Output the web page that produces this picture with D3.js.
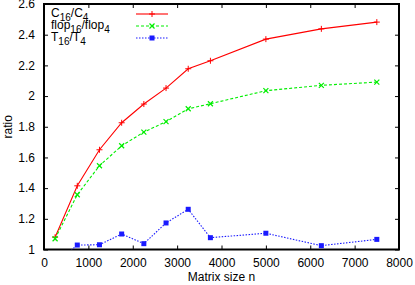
<!DOCTYPE html>
<html>
<head>
<meta charset="utf-8">
<script src="https://cdn.jsdelivr.net/npm/d3@7"></script>
<style>
	body { margin: 0; background: #fff; }
	svg text { font-family: "Liberation Sans", Arial, sans-serif; font-size: 12px; fill: #000; }
</style>
</head>
<body>
<svg id="chart" width="415" height="285"></svg>
<script>
// matrix sizes
const sizes = [250, 750, 1250, 1750, 2250, 2750, 3250, 3750, 5000, 6250, 7500];
// C16/C4
const costRatio = [1.08, 1.415, 1.65, 1.826, 1.948, 2.052, 2.178, 2.23, 2.371, 2.438, 2.482];
// flop16/flop4
const flopRatio = [1.07, 1.357, 1.546, 1.676, 1.765, 1.833, 1.917, 1.95, 2.035, 2.07, 2.091];
// T16/T4 (first point is below the plot and gets clipped)
const timeRatio = [0.905, 1.029, 1.031, 1.101, 1.038, 1.173, 1.262, 1.077, 1.106, 1.025, 1.066];

const xTicks = [0, 1000, 2000, 3000, 4000, 5000, 6000, 7000, 8000];
const yTicks = [1, 1.2, 1.4, 1.6, 1.8, 2, 2.2, 2.4, 2.6];

const margin = { left: 44, right: 16, top: 4, bottom: 35.5 };
const width = 415, height = 285;

const svg = d3.select('#chart');

let x = d3.scaleLinear()
	.domain([0, 8000])
	.range([margin.left, width - margin.right]);
let y = d3.scaleLinear()
	.domain([1, 2.6])
	.range([height - margin.bottom, margin.top]);

svg.append('clipPath')
	.attr('id', 'plot-clip')
	.append('rect')
	.attr('x', x(0))
	.attr('y', y(2.6))
	.attr('width', x(8000) - x(0))
	.attr('height', y(1) - y(2.6));

// ticks, inside on all four sides
let tickLen = 4;
let axes = svg.append('g');

axes.append('g')
	.attr('transform', 'translate(0,' + y(1) + ')')
	.call(d3.axisBottom(x).tickValues(xTicks).tickSizeInner(-tickLen).tickSizeOuter(0).tickPadding(9).tickFormat(d3.format('d')));
axes.append('g')
	.attr('transform', 'translate(0,' + y(2.6) + ')')
	.call(d3.axisTop(x).tickValues(xTicks).tickSizeInner(-tickLen).tickSizeOuter(0).tickFormat(''));
axes.append('g')
	.attr('transform', 'translate(' + x(0) + ',0)')
	.call(d3.axisLeft(y).tickValues(yTicks).tickSizeInner(-tickLen).tickSizeOuter(0).tickPadding(9).tickFormat(d3.format('~g')));
axes.append('g')
	.attr('transform', 'translate(' + x(8000) + ',0)')
	.call(d3.axisRight(y).tickValues(yTicks).tickSizeInner(-tickLen).tickSizeOuter(0).tickFormat(''));

axes.selectAll('.domain').remove();
axes.selectAll('.tick line').attr('stroke', '#000').attr('stroke-width', 1);
axes.selectAll('.tick text')
	.style('font-family', '"Liberation Sans", Arial, sans-serif')
	.style('font-size', '12px')
	.attr('fill', '#000');

svg.append('rect')
	.attr('x', x(0))
	.attr('y', y(2.6))
	.attr('width', x(8000) - x(0))
	.attr('height', y(1) - y(2.6))
	.attr('fill', 'none')
	.attr('stroke', '#000')
	.attr('stroke-width', 2);

// axis titles
svg.append('text')
	.attr('x', (x(0) + x(8000)) / 2)
	.attr('y', 281)
	.attr('text-anchor', 'middle')
	.text('Matrix size n');
svg.append('text')
	.attr('transform', 'translate(12,' + ((y(1) + y(2.6)) / 2) + ') rotate(-90)')
	.attr('text-anchor', 'middle')
	.text('ratio');

// series
let series = [
	{ values: costRatio, color: '#ff0000', dash: null, marker: 'plus', num: '16', den: '4', base: 'C' },
	{ values: flopRatio, color: '#00ee00', dash: '3,2', marker: 'cross', num: '16', den: '4', base: 'flop' },
	{ values: timeRatio, color: '#1a1aff', dash: '1.5,1.5', marker: 'square', num: '16', den: '4', base: 'T' }
];

function drawMarker(g, type, cx, cy, color) {
	if (type == 'plus') {
		g.append('path')
			.attr('d', 'M' + (cx - 3) + ',' + cy + 'H' + (cx + 3) + 'M' + cx + ',' + (cy - 3) + 'V' + (cy + 3))
			.attr('stroke', color).attr('stroke-width', 1);
	}
	if (type == 'cross') {
		g.append('path')
			.attr('d', 'M' + (cx - 2.5) + ',' + (cy - 2.5) + 'L' + (cx + 2.5) + ',' + (cy + 2.5) +
				'M' + (cx - 2.5) + ',' + (cy + 2.5) + 'L' + (cx + 2.5) + ',' + (cy - 2.5))
			.attr('stroke', color).attr('stroke-width', 1.2);
	}
	if (type == 'square') {
		g.append('rect')
			.attr('x', cx - 2.5).attr('y', cy - 2.5)
			.attr('width', 5).attr('height', 5)
			.attr('fill', color);
	}
}

let plot = svg.append('g').attr('clip-path', 'url(#plot-clip)');
let line = d3.line()
	.x(function(d, i) { return x(sizes[i]); })
	.y(function(d) { return y(d); });

for (let i = 0; i < series.length; i++) {
	let s = series[i];

	plot.append('path')
		.datum(s.values)
		.attr('d', line)
		.attr('fill', 'none')
		.attr('stroke', s.color)
		.attr('stroke-width', 1.1)
		.attr('stroke-dasharray', s.dash);

	for (let j = 0; j < s.values.length; j++)
		drawMarker(plot, s.marker, x(sizes[j]), y(s.values[j]), s.color);
}

// legend
let legend = svg.append('g');
let rowY = [14, 26, 38];

for (let i = 0; i < series.length; i++) {
	let s = series[i];
	let label = legend.append('text')
		.attr('x', 51)
		.attr('y', rowY[i] + 3);

	label.append('tspan').text(s.base);
	label.append('tspan').attr('dy', 4).style('font-size', '10px').text(s.num);
	label.append('tspan').attr('dy', -4).text('/' + s.base);
	label.append('tspan').attr('dy', 4).style('font-size', '10px').text(s.den);

	legend.append('line')
		.attr('x1', 136).attr('x2', 168)
		.attr('y1', rowY[i]).attr('y2', rowY[i])
		.attr('stroke', s.color)
		.attr('stroke-width', 1.1)
		.attr('stroke-dasharray', s.dash);
	drawMarker(legend, s.marker, 152, rowY[i], s.color);
}
</script>
</body>
</html>
